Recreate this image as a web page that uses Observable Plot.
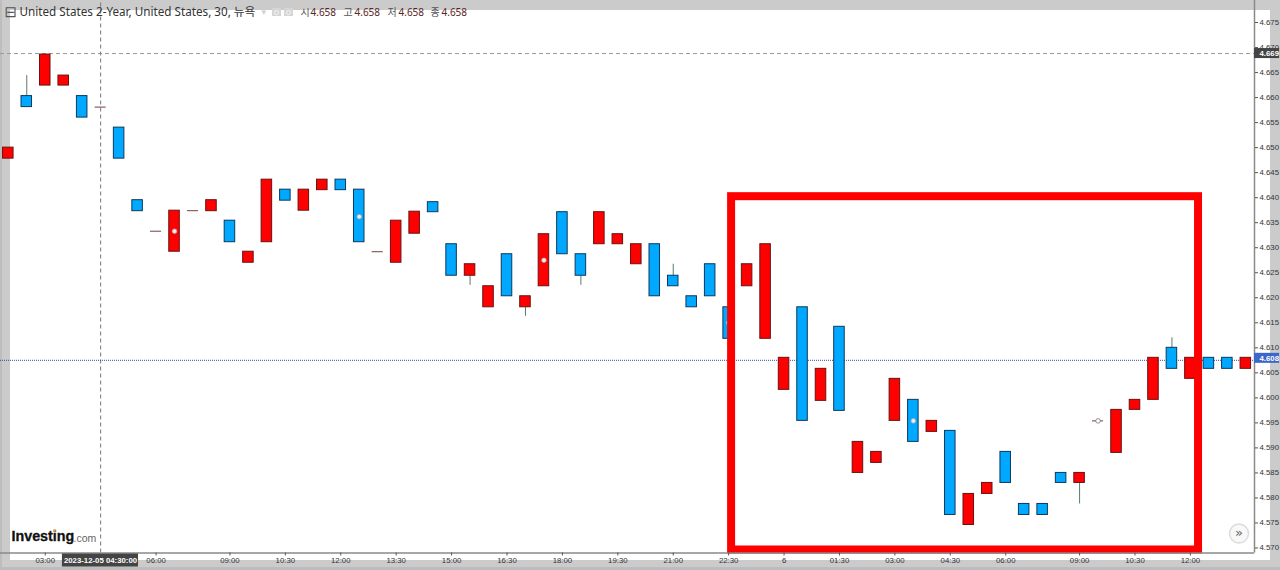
<!DOCTYPE html>
<html>
<head>
<meta charset="utf-8">
<script src="https://cdn.jsdelivr.net/npm/d3@7"></script>
<script src="https://cdn.jsdelivr.net/npm/@observablehq/plot@0.6"></script>
<style>
html,body{margin:0;padding:0;width:1280px;height:570px;overflow:hidden;background:#cbcbcb;}
#stage{position:relative;width:1280px;height:570px;overflow:hidden;}
#paper{position:absolute;left:10px;top:10px;width:1260px;height:550px;background:#fff;}
#foot{position:absolute;left:0;top:567px;width:1280px;height:3px;background:#bdbdbd;}
#edge{position:absolute;left:0;top:0;width:2px;height:570px;background:#bdbdbd;}
.ico{position:absolute;top:8px;width:9px;height:8px;background:#d6d6d6;}
.ico i{position:absolute;left:2px;top:1.5px;width:3px;height:3px;border:1px solid #f4f4f4;border-radius:50%;}
#chart{position:absolute;left:0;top:0;}
</style>
</head>
<body>
<div id="stage">
  <div id="paper"></div><div id="edge"></div><div id="foot"></div>
  <div id="chart"></div>
  <div class="ico" style="left:272px"><i></i></div>
  <div class="ico" style="left:284px"><i></i></div>
</div>
<script>
const bodyTop = [4.6500,4.6603,4.6686,4.6644,4.6603,4.6581,4.6540,4.6395,4.6333,4.6374,4.6374,4.6395,4.6354,4.6292,4.6436,4.6416,4.6416,4.6436,4.6436,4.6416,4.6292,4.6354,4.6372,4.6391,4.6307,4.6267,4.6223,4.6287,4.6203,4.6327,4.6371,4.6287,4.6371,4.6327,4.6307,4.6307,4.6244,4.6203,4.6267,4.6181,4.6267,4.6307,4.6080,4.6181,4.6058,4.6142,4.5912,4.5892,4.6038,4.5996,4.5954,4.5934,4.5808,4.5830,4.5892,4.5788,4.5788,4.5850,4.5850,4.5954,4.5976,4.5996,4.6080,4.6100,4.6080,4.6080,4.6080,4.6080];
const bodyBottom = [4.6478,4.6581,4.6624,4.6624,4.6560,4.6581,4.6478,4.6373,4.6333,4.6292,4.6374,4.6373,4.6311,4.6270,4.6311,4.6394,4.6374,4.6415,4.6415,4.6311,4.6292,4.6270,4.6328,4.6371,4.6244,4.6244,4.6181,4.6203,4.6181,4.6223,4.6287,4.6244,4.6307,4.6307,4.6267,4.6203,4.6223,4.6181,4.6203,4.6118,4.6223,4.6118,4.6016,4.5954,4.5994,4.5974,4.5850,4.5870,4.5954,4.5912,4.5932,4.5766,4.5746,4.5808,4.5830,4.5766,4.5766,4.5830,4.5830,4.5954,4.5890,4.5976,4.5996,4.6058,4.6038,4.6058,4.6058,4.6058];
const bodySide = "r b r r b d b b d r d r b r r b r r b b d r r b b r r b r r b b r r r b b b b b r r r b r b r r r b r b r r b b b b r d r r r b r b b r".split(" ");
const wickBars = [1,25,28,31,36,58,63];
const wickEnds = [4.6644,4.6225,4.6163,4.6225,4.6267,4.5788,4.6120];
const dotBars = [9,19,29,39,49];
const dotPrices = [4.6333,4.6362,4.6275,4.6150,4.5954];
const hollowBars = [59];
const hollowPrices = [4.5954];
const xTickBars = [2,8,12,15,18,21,24,27,30,33,36,39,42,45,48,51,54,58,61,64];
const xTickLabels = ["03:00","06:00","09:00","10:30","12:00","13:30","15:00","16:30","18:00","19:30","21:00","22:30","6","01:30","03:00","04:30","06:00","09:00","10:30","12:00"];
const yTicks = [4.570,4.575,4.580,4.585,4.590,4.595,4.600,4.605,4.610,4.615,4.620,4.625,4.630,4.635,4.640,4.645,4.650,4.655,4.660,4.665,4.670,4.675];
const highLine = 4.6688, lastLine = 4.6075, lastBadge = 4.6079, crossBar = 5;
const highlightBox = {x1:39.16, x2:64.44, y1:4.5696, y2:4.6402};
const titleText = "United States 2-Year, United States, 30, 뉴욕";
const ohlcKeys = ["시","고","저","종"];
const ohlcVals = ["4.658","4.658","4.658","4.658"];

const bars = bodyTop.map((t,i)=>({i,t,b:bodyBottom[i],s:bodySide[i]}));
const FONT = "Liberation Sans";
const UI = "Noto Sans, Noto Sans CJK KR";
const label = (text,x,y,o={}) => Plot.text([text],{text:d=>d,frameAnchor:"top-left",dx:x,dy:y,textAnchor:"start",lineAnchor:"middle",fontFamily:UI,fontSize:11.7,fill:"#333",...o});
const xMax = 67.47, xRight = 68.83;

const chart = Plot.plot({
  width:1280,height:570,marginLeft:0,marginRight:26,marginTop:0,marginBottom:17.5,
  style:{background:"transparent",overflow:"visible"},
  x:{type:"linear",domain:[-0.4223,xMax],axis:null},
  y:{type:"linear",domain:[4.569,4.6794],axis:null},
  marks:[
    Plot.ruleY([highLine],{x1:-0.4223,x2:xMax,stroke:"#9a9a9a",strokeDasharray:"4 3"}),
    Plot.ruleX([crossBar],{y1:4.569,y2:4.6794,stroke:"#777",strokeDasharray:"4 3"}),
    Plot.ruleY([lastLine],{x1:-0.4223,x2:xMax,stroke:"#2f4f9f",strokeDasharray:"1 1"}),
    Plot.ruleX(wickBars,{x:d=>d,y1:(d,j)=>wickEnds[j],y2:(d,j)=>bars[d].t>wickEnds[j]?bars[d].b:bars[d].t,stroke:"#5a7a70"}),
    Plot.rect(bars.filter(d=>d.s!=="d"),{x1:d=>d.i-0.285,x2:d=>d.i+0.285,y1:"b",y2:"t",
      fill:d=>d.s==="r"?"#ff0000":"#00a8ff",stroke:d=>d.s==="r"?"#6c1010":"#0b3a5c",strokeWidth:1}),
    Plot.ruleY(bars.filter(d=>d.s==="d"),{x1:d=>d.i-0.3,x2:d=>d.i+0.3,y:"t",stroke:"#744040"}),
    Plot.dot(dotBars,{x:d=>d,y:(d,j)=>dotPrices[j],r:2.3,fill:"#ececec",stroke:"#aaa",strokeWidth:0.7}),
    Plot.dot(hollowBars,{x:d=>d,y:(d,j)=>hollowPrices[j],r:2.3,fill:"#fff",stroke:"#777",strokeWidth:0.8}),
    Plot.rect([highlightBox],{x1:"x1",x2:"x2",y1:"y1",y2:"y2",fill:"none",stroke:"#ff0000",strokeWidth:8}),
    Plot.ruleX([xMax],{y1:4.569,y2:4.6794,stroke:"#8a8a8a",strokeWidth:1.5}),
    Plot.ruleY([4.569],{x1:-0.4223,x2:xMax,stroke:"#8a8a8a",strokeWidth:1.5}),
    Plot.axisY(yTicks,{anchor:"right",tickSize:3,tickPadding:2,tickFormat:".3f",fontSize:7.8,fontFamily:FONT,fill:"#333",stroke:"#555",label:null}),
    Plot.axisX(xTickBars,{anchor:"bottom",tickSize:3,tickPadding:1,tickFormat:d=>xTickLabels[xTickBars.indexOf(d)],fontSize:7.8,fontFamily:FONT,fill:"#333",stroke:"#555",label:null}),
    Plot.rect([0],{x1:2.93,x2:7.05,y1:4.5662,y2:4.5688,fill:"#444"}),
    label("2023-12-05 04:30:00",100,560,{textAnchor:"middle",fontFamily:FONT,fontSize:7.8,fill:"#fff",fontWeight:"bold"}),
    Plot.rect([0],{x1:xMax,x2:xRight,y1:highLine-0.001,y2:highLine+0.001,fill:"#444"}),
    label("4.669",1259,53,{fontFamily:FONT,fontSize:7.8,fill:"#fff",fontWeight:"bold"}),
    Plot.rect([0],{x1:xMax,x2:xRight,y1:lastBadge-0.001,y2:lastBadge+0.001,fill:"#3c66c8"}),
    label("4.608",1259,357.5,{fontFamily:FONT,fontSize:7.8,fill:"#fff",fontWeight:"bold"}),
    label("⊟",4,12,{fontFamily:"DejaVu Sans",fontSize:15,fill:"#555"}),
    label(titleText,19,12),
    label("▾",261,12,{fontFamily:"DejaVu Sans",fontSize:9,fill:"#d0d0d0"}),
    ...ohlcKeys.flatMap((k,j)=>[
      label(k,[300,343,387,430][j],12,{fontSize:10,fill:"#555"}),
      label(ohlcVals[j],[310,354,398,441][j],12,{fontSize:10,fill:"#5a2424"})
    ]),
    label("Investing",11,536,{fontFamily:FONT,fontWeight:"bold",fontSize:14.3,fill:"#111",stroke:"#111",strokeWidth:0.3}),
    label(".com",73,538,{fontFamily:FONT,fontSize:10.5,fill:"#666"}),
    Plot.dot([0],{frameAnchor:"top-left",dx:54,dy:530,r:1.2,fill:"#f5a623"}),
    Plot.dot([0],{frameAnchor:"top-left",dx:1238.5,dy:533,r:9.5,fill:"#f8f8f8",stroke:"#dcdcdc"}),
    label("»",1238.5,532,{textAnchor:"middle",fontFamily:"DejaVu Sans",fontSize:13,fill:"#666"})
  ]
});
document.getElementById("chart").append(chart);
</script>
</body>
</html>
